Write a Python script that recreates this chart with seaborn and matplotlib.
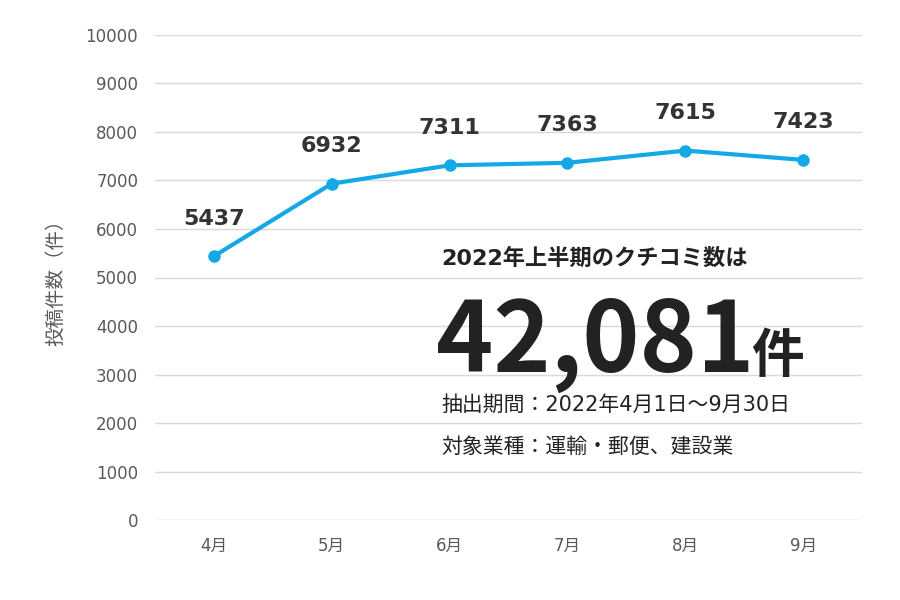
import matplotlib
matplotlib.use('Agg')
import matplotlib.pyplot as plt
import seaborn as sns
import pandas as pd

months = ['4月', '5月', '6月', '7月', '8月', '9月']
posts = [5437, 6932, 7311, 7363, 7615, 7423]
yticks = list(range(0, 10001, 1000))

sns.set_theme(style='white')
plt.rcParams['font.family'] = ['DejaVu Sans', 'Noto Sans CJK JP']
cjk = ['Noto Sans CJK JP', 'DejaVu Sans']

df = pd.DataFrame({'month': months, 'posts': posts})

fig = plt.figure(figsize=(9, 6), dpi=100)
ax = fig.add_axes([0.172, 0.133, 0.786, 0.809])
sns.lineplot(x='month', y='posts', data=df, ax=ax, color='#13a9e6', linewidth=3,
             marker='o', markersize=9, markeredgewidth=0, sort=False)

for i, v in enumerate(posts):
    ax.annotate(str(v), (i, v), xytext=(0, 20), textcoords='offset points',
                ha='center', va='bottom', fontsize=16, fontweight='bold', color='#333333')

ax.set_ylim(0, 10000)
ax.set_xlim(-0.5, 5.5)
ax.set_yticks(yticks)
ax.grid(axis='y', color='#d9d9d9', linewidth=1)
for s in ax.spines.values():
    s.set_visible(False)
ax.tick_params(axis='both', length=0, labelsize=12, labelcolor='#595959', pad=12)
ax.set_xlabel('')
ax.set_ylabel('投稿件数（件）', fontsize=14, color='#595959', labelpad=14, family=cjk)

fig.text(0.49, 0.57, '2022年上半期のクチコミ数は', fontsize=16, fontweight='bold', color='#222222', va='center')
fig.text(0.484, 0.38, '42,081', fontsize=70, fontweight='bold', color='#222222', va='baseline', family=cjk)
fig.text(0.835, 0.38, '件', fontsize=38, fontweight='bold', color='#222222', va='baseline', family=cjk)
fig.text(0.49, 0.325, '抽出期間：2022年4月1日～9月30日', fontsize=15, color='#222222', va='center')
fig.text(0.49, 0.255, '対象業種：運輸・郵便、建設業', fontsize=15, color='#222222', va='center', family=cjk)

fig.savefig('out.png', dpi=100)
